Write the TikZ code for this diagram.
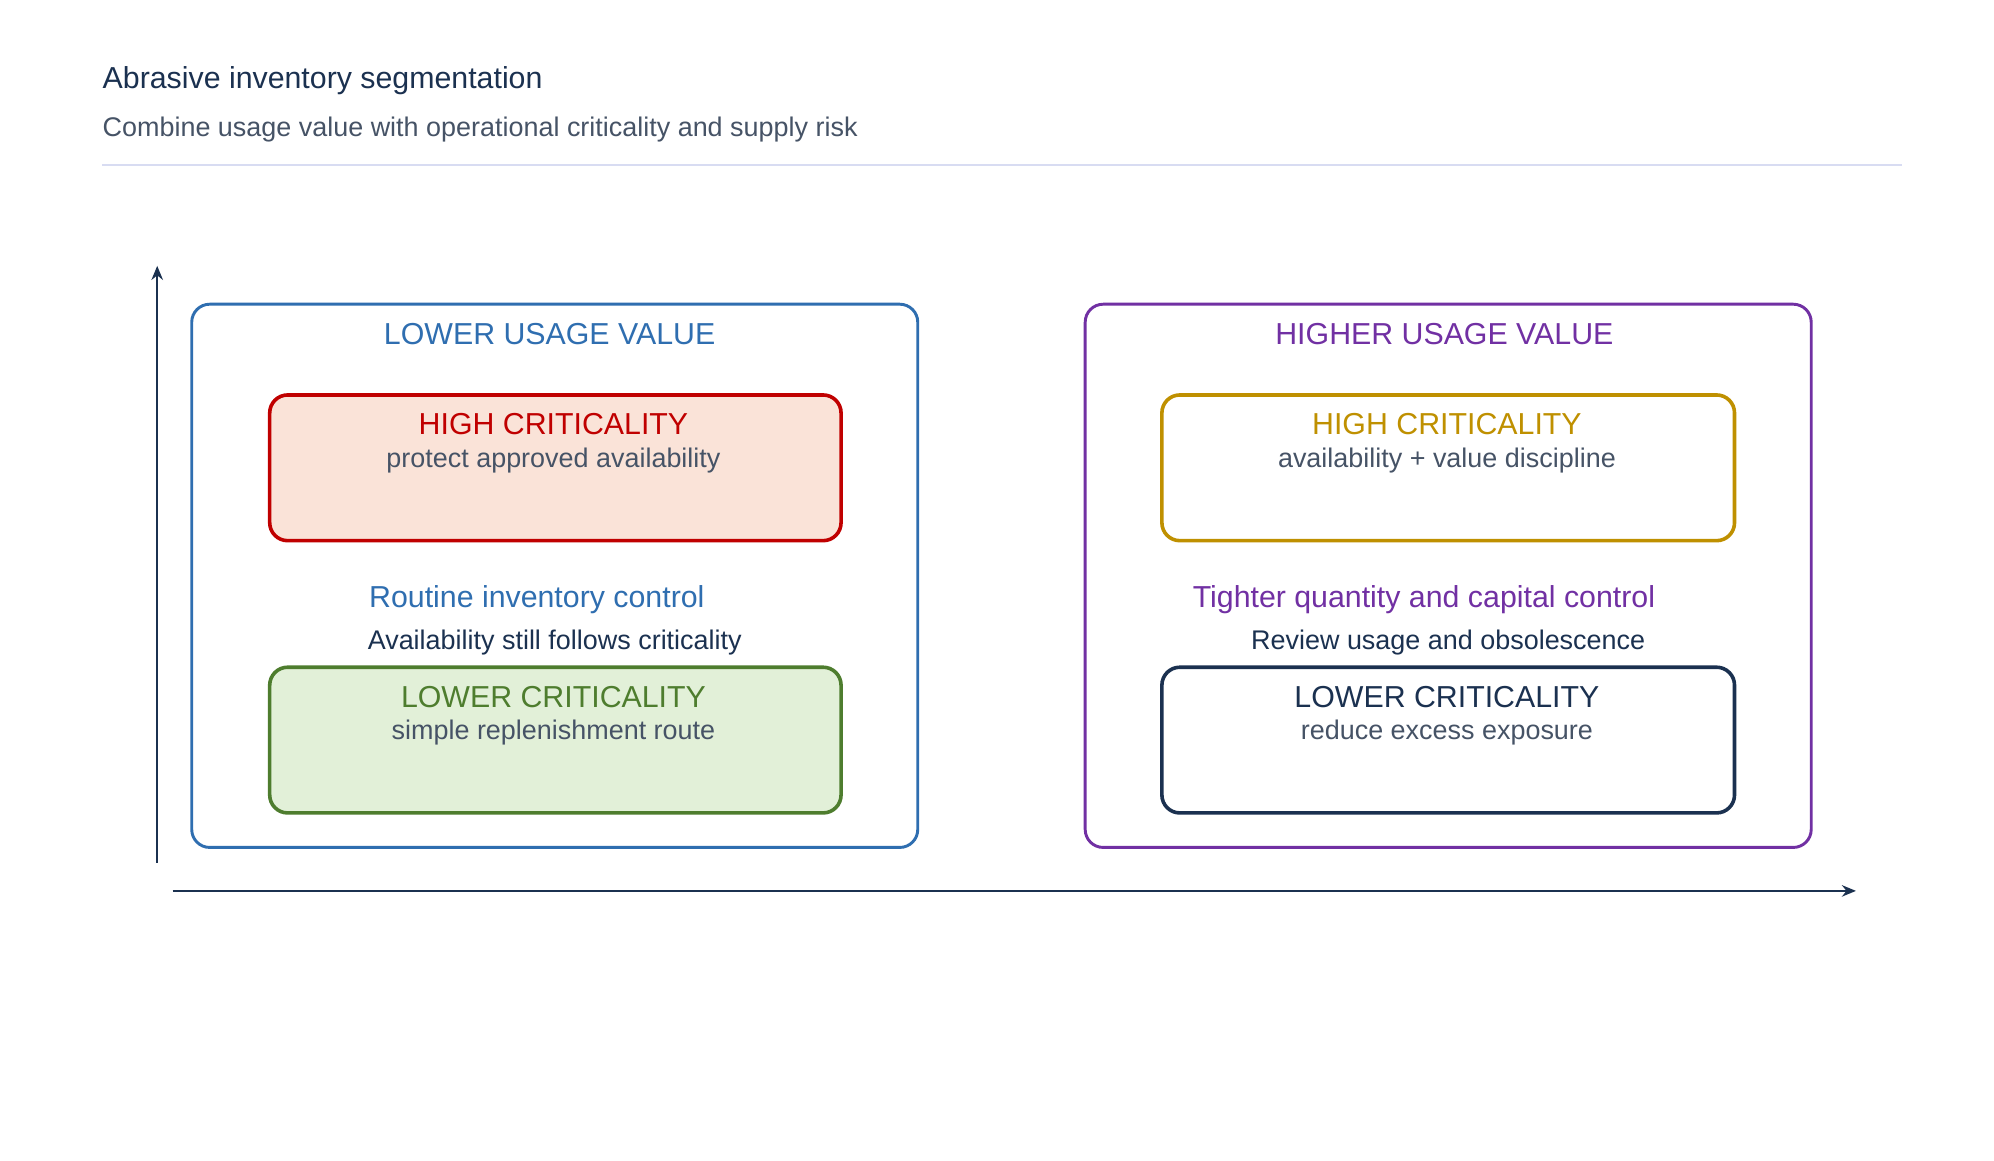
\documentclass[tikz,border=0pt]{standalone}
\usepackage{fontspec}
\setmainfont{Liberation Sans}
\usetikzlibrary{arrows.meta,positioning}
\definecolor{navy}{HTML}{1B3150}
\definecolor{slate}{HTML}{465366}
\definecolor{rule}{HTML}{D8DCF2}
\definecolor{lowblue}{HTML}{2F6EB0}
\definecolor{highpurple}{HTML}{7130A3}
\definecolor{critred}{HTML}{C00000}
\definecolor{critredfill}{HTML}{FAE3D8}
\definecolor{critgreen}{HTML}{4E7D2E}
\definecolor{critgreenfill}{HTML}{E2F0D8}
\definecolor{critgold}{HTML}{BF9000}
\tikzset{
  group/.style={draw, rounded corners=8pt, line width=1.3pt},
  cell/.style={draw, rounded corners=8pt, line width=1.6pt},
  head/.style={font=\fontsize{13.5}{15}\selectfont},
  body/.style={font=\fontsize{12}{14}\selectfont, text=slate},
  axis/.style={-{Stealth[length=2.2mm, width=1.8mm]}, navy, line width=0.9pt}
}
\begin{document}
\begin{tikzpicture}[x=0.02cm, y=-0.02cm]
  % Fixed bounding box
  \path[use as bounding box, fill=white] (0,0) rectangle (1560,908);

  % Title
  \node[anchor=west, text=navy, font=\fontsize{13.5}{15}\selectfont, inner sep=0pt] (title) at (80,63) {Abrasive inventory segmentation};
  \node[anchor=west, text=slate, font=\fontsize{12}{14}\selectfont, inner sep=0pt] (subtitle) at (80,101) {Combine usage value with operational criticality and supply risk};
  \draw[rule, line width=1pt] (80,129) -- (1488,129);

  % Axes
  \coordinate (ybot) at (123,675);
  \coordinate (ytop) at (123,208);
  \coordinate (xleft) at (135,697);
  \coordinate (xright) at (1452,697);
  \draw[axis] (ybot) -- (ytop);
  \draw[axis] (xleft) -- (xright);

  % Lower usage value
  \draw[group, lowblue] (150,238) rectangle (718,663);
  \node[head, text=lowblue] (lowlabel) at (430,261) {LOWER USAGE VALUE};
  \draw[cell, critred, fill=critredfill] (211,309) rectangle (658,423);
  \node[head, text=critred] (lowhigh) at (433,332) {HIGH CRITICALITY};
  \node[body] (lowhighnote) at (433,360) {protect approved availability};
  \node[head, text=lowblue] (lowpolicy) at (420,469) {Routine inventory control};
  \node[body, text=navy] (lownote) at (434,503) {Availability still follows criticality};
  \draw[cell, critgreen, fill=critgreenfill] (211,522) rectangle (658,636);
  \node[head, text=critgreen] (lowlow) at (433,545) {LOWER CRITICALITY};
  \node[body] (lowlownote) at (433,573) {simple replenishment route};

  % Higher usage value
  \draw[group, highpurple] (849,238) rectangle (1417,663);
  \node[head, text=highpurple] (highlabel) at (1130,261) {HIGHER USAGE VALUE};
  \draw[cell, critgold] (909,309) rectangle (1357,423);
  \node[head, text=critgold] (highhigh) at (1132,332) {HIGH CRITICALITY};
  \node[body] (highhighnote) at (1132,360) {availability + value discipline};
  \node[head, text=highpurple] (highpolicy) at (1114,469) {Tighter quantity and capital control};
  \node[body, text=navy] (highnote) at (1133,503) {Review usage and obsolescence};
  \draw[cell, navy] (909,522) rectangle (1357,636);
  \node[head, text=navy] (highlow) at (1132,545) {LOWER CRITICALITY};
  \node[body] (highlownote) at (1132,573) {reduce excess exposure};
\end{tikzpicture}
\end{document}
